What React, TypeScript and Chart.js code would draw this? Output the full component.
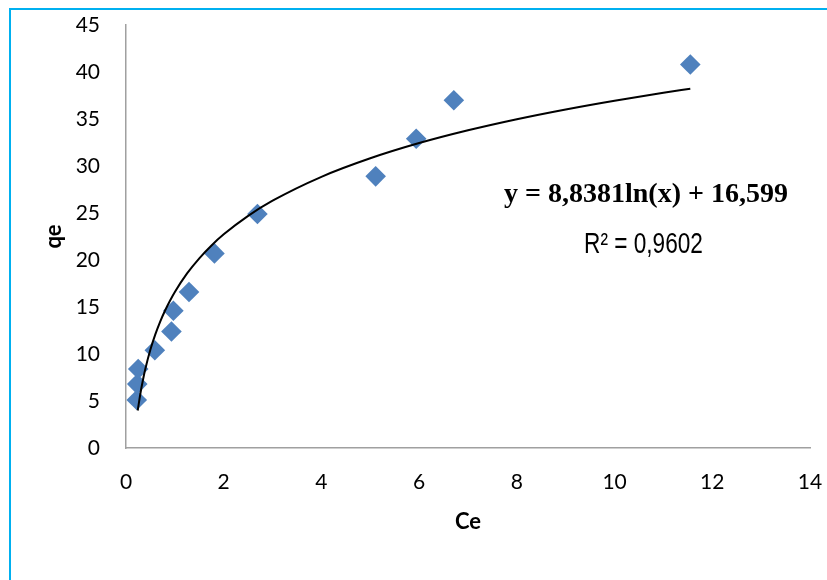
import React, { useEffect, useRef } from "react";
import { Chart, registerables } from "chart.js";

Chart.register(...registerables);

const ceValues = [0.22, 0.23, 0.25, 0.59, 0.93, 0.97, 1.29, 1.81, 2.69, 5.11, 5.94, 6.71, 11.55];
const qeValues = [5.1, 6.8, 8.4, 10.4, 12.4, 14.6, 16.6, 20.7, 24.9, 28.9, 32.9, 37.0, 40.8];

const trendX = [0.24, 0.3, 0.35, 0.4, 0.5, 0.6, 0.7, 0.8, 0.9, 1.0, 1.25, 1.5, 1.75, 2, 2.5, 3, 4, 5, 6, 7, 8, 9, 10, 11, 11.55];
const trendY = [3.99, 5.96, 7.32, 8.5, 10.47, 12.08, 13.45, 14.63, 15.67, 16.6, 18.57, 20.18, 21.55, 22.73, 24.7, 26.31, 28.85, 30.82, 32.44, 33.8, 34.98, 36.02, 36.95, 37.79, 38.22];

const equationText = "y = 8,8381ln(x) + 16,599";
const r2Text = "R² = 0,9602";
const xTitle = "Ce";
const yTitle = "qe";

export default function App() {
  const ref = useRef<HTMLCanvasElement>(null);

  useEffect(() => {
    if (!ref.current) return;
    const textPlugin = {
      id: "trendText",
      afterDraw(chart: any) {
        const ctx = chart.ctx;
        ctx.save();
        ctx.fillStyle = "#000";
        ctx.textAlign = "center";
        ctx.textBaseline = "alphabetic";
        ctx.font = "bold 28px 'Liberation Serif', 'Times New Roman', serif";
        ctx.fillText(equationText, 646, 202);
        ctx.translate(643.5, 253);
        ctx.scale(0.78, 1);
        ctx.font = "29px 'Liberation Sans', Arial, sans-serif";
        ctx.fillText(r2Text, 0, 0);
        ctx.restore();
      },
    };
    const chart = new Chart(ref.current, {
      type: "scatter",
      data: {
        datasets: [
          {
            label: "trend",
            data: trendX.map((x, i) => ({ x, y: trendY[i] })),
            showLine: true,
            borderColor: "#000000",
            borderWidth: 2,
            pointRadius: 0,
            cubicInterpolationMode: "monotone",
            order: 0,
          } as any,
          {
            label: "qe",
            data: ceValues.map((x, i) => ({ x, y: qeValues[i] })),
            pointStyle: "rectRot",
            pointRadius: 10.3,
            pointHoverRadius: 10.3,
            backgroundColor: "#4F81BD",
            borderColor: "#4F81BD",
            borderWidth: 0,
            order: 1,
          },
        ],
      },
      options: {
        animation: false,
        responsive: false,
        maintainAspectRatio: false,
        layout: { padding: { left: 0, top: 25, right: 17, bottom: 0 } },
        plugins: { legend: { display: false }, tooltip: { enabled: false } },
        scales: {
          x: {
            type: "linear",
            min: 0,
            max: 14,
            ticks: { stepSize: 2, padding: 14, color: "#000", font: { family: "Lato", size: 21 } },
            grid: { display: false },
            border: { display: true, color: "#A0A0A0", width: 1.5 },
            title: { display: true, text: xTitle, color: "#000", font: { family: "Lato", size: 22, weight: "bold" }, padding: { top: 0, bottom: 45 } },
            afterFit(scale: any) {
              scale.height = 132;
              scale.paddingLeft = 0;
              scale.paddingRight = 0;
            },
          },
          y: {
            type: "linear",
            min: 0,
            max: 45,
            ticks: { stepSize: 5, padding: 18, color: "#000", font: { family: "Lato", size: 21 } },
            grid: { display: false },
            border: { display: true, color: "#A0A0A0", width: 1.5 },
            title: { display: true, text: yTitle, color: "#000", font: { family: "Lato", size: 22, weight: "bold" }, padding: { top: 41, bottom: 0 } },
            afterFit(scale: any) {
              scale.width = 126;
              scale.paddingTop = 0;
              scale.paddingBottom = 0;
            },
          },
        },
      },
      plugins: [textPlugin],
    });
    return () => chart.destroy();
  }, []);

  return (
    <div style={{ position: "fixed", left: 0, top: 0, width: 827, height: 580, background: "#fff" }}>
      <canvas ref={ref} width={827} height={580} style={{ position: "absolute", left: 0, top: 0, width: 827, height: 580 }} />
      <div
        style={{
          position: "absolute",
          left: 9,
          top: 8,
          width: 830,
          height: 590,
          borderLeft: "2px solid #00B0F0",
          borderTop: "2px solid #00B0F0",
          pointerEvents: "none",
        }}
      />
    </div>
  );
}
